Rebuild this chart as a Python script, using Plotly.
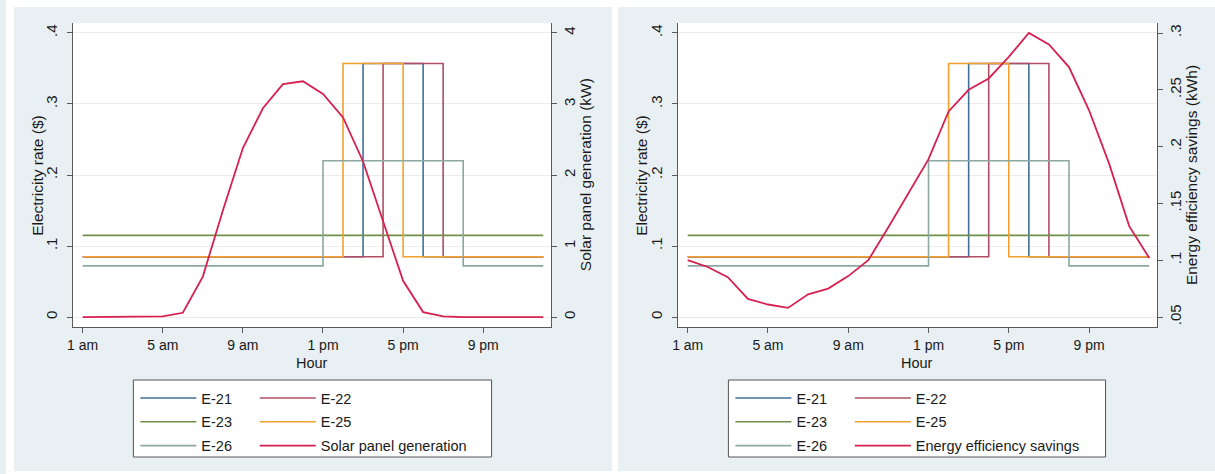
import plotly.graph_objects as go

W, H = 1215, 474

# ---- data -------------------------------------------------------------
hours = list(range(1, 25))
hour_tickvals = [1, 5, 9, 13, 17, 21]
hour_ticktext = ["1 am", "5 am", "9 am", "1 pm", "5 pm", "9 pm"]

# hourly electricity rates ($/kWh) for each tariff
e21 = [0.085, 0.085, 0.085, 0.085, 0.085, 0.085, 0.085, 0.085, 0.085, 0.085, 0.085, 0.085,
       0.085, 0.085, 0.357, 0.357, 0.357, 0.085, 0.085, 0.085, 0.085, 0.085, 0.085, 0.085]
e22 = [0.085, 0.085, 0.085, 0.085, 0.085, 0.085, 0.085, 0.085, 0.085, 0.085, 0.085, 0.085,
       0.085, 0.085, 0.085, 0.357, 0.357, 0.357, 0.085, 0.085, 0.085, 0.085, 0.085, 0.085]
e23 = [0.115, 0.115, 0.115, 0.115, 0.115, 0.115, 0.115, 0.115, 0.115, 0.115, 0.115, 0.115,
       0.115, 0.115, 0.115, 0.115, 0.115, 0.115, 0.115, 0.115, 0.115, 0.115, 0.115, 0.115]
e25 = [0.085, 0.085, 0.085, 0.085, 0.085, 0.085, 0.085, 0.085, 0.085, 0.085, 0.085, 0.085,
       0.085, 0.357, 0.357, 0.357, 0.085, 0.085, 0.085, 0.085, 0.085, 0.085, 0.085, 0.085]
e26 = [0.072, 0.072, 0.072, 0.072, 0.072, 0.072, 0.072, 0.072, 0.072, 0.072, 0.072, 0.072,
       0.220, 0.220, 0.220, 0.220, 0.220, 0.220, 0.220, 0.072, 0.072, 0.072, 0.072, 0.072]

# hourly solar panel output (kW)
solar_kw = [0, 0, 0, 0, 0.01, 0.06, 0.57, 1.50, 2.38, 2.94, 3.28, 3.32,
            3.14, 2.81, 2.19, 1.35, 0.51, 0.07, 0.01, 0, 0, 0, 0, 0]

# hourly energy efficiency savings (kWh)
savings_kwh = [0.100, 0.094, 0.085, 0.066, 0.061, 0.058, 0.070, 0.075, 0.086, 0.100, 0.129, 0.159,
               0.189, 0.231, 0.250, 0.260, 0.279, 0.300, 0.290, 0.270, 0.232, 0.185, 0.130, 0.102]

rate_ticks = [0, 0.1, 0.2, 0.3, 0.4]
rate_ticktext = ["0", ".1", ".2", ".3", ".4"]
solar_ticks = [0, 1, 2, 3, 4]
solar_ticktext = ["0", "1", "2", "3", "4"]
savings_ticks = [0.05, 0.10, 0.15, 0.20, 0.25, 0.30]
savings_ticktext = [".05", ".1", ".15", ".2", ".25", ".3"]

tariffs = [("E-21", e21), ("E-22", e22), ("E-23", e23), ("E-25", e25), ("E-26", e26)]
colors = {"E-21": "#40709a", "E-22": "#b24d63", "E-23": "#6f9048",
          "E-25": "#f2a12c", "E-26": "#8ca8a2"}
curve_color = "#d7204f"

FONT = "Liberation Sans, Arial, Helvetica, sans-serif"
TXT = "#1a1a1a"
AX = "#5a5a5a"
PANEL = "#e8f0f3"


def px_x(p):
    return p / W


def px_y(p):
    return 1 - p / H


fig = go.Figure()

# which legend column each series sits in
left_col = {"E-21": 1, "E-23": 1, "E-26": 1, "E-22": 2, "E-25": 2}

panels = [
    dict(xa="x", ya="y", ya2="y2", curve=solar_kw, curve_name="Solar panel generation",
         legs=("legend", "legend2")),
    dict(xa="x2", ya="y3", ya2="y4", curve=savings_kwh, curve_name="Energy efficiency savings",
         legs=("legend3", "legend4")),
]

for p in panels:
    for name, vals in tariffs:
        leg = p["legs"][0] if left_col[name] == 1 else p["legs"][1]
        fig.add_trace(go.Scatter(
            x=hours, y=vals, mode="lines", name=name,
            line=dict(color=colors[name], width=1.6, shape="hv"),
            xaxis=p["xa"], yaxis=p["ya"], legend=leg, legendgroup=p["xa"] + name,
            hoverinfo="skip"))
    fig.add_trace(go.Scatter(
        x=hours, y=p["curve"], mode="lines", name=p["curve_name"],
        line=dict(color=curve_color, width=1.8),
        xaxis=p["xa"], yaxis=p["ya2"], legend=p["legs"][1],
        legendgroup=p["xa"] + "curve", hoverinfo="skip"))

# ---- axes -------------------------------------------------------------
ydom = [px_y(327), px_y(23)]
xdom_l = [px_x(67), px_x(548)]
xdom_r = [px_x(675), px_x(1157)]

xtickfont = dict(family=FONT, size=14, color=TXT)
ytickfont = dict(family=FONT, size=15, color=TXT)

xcommon = dict(range=[0.5, 24.4], tickvals=hour_tickvals, ticktext=hour_ticktext,
               showgrid=False, zeroline=False, showline=True, linecolor=AX, linewidth=1,
               ticks="outside", ticklen=5, tickcolor=AX, tickfont=xtickfont)
ycommon = dict(showline=True, linecolor=AX, linewidth=1, zeroline=False,
               ticks="outside", ticklen=5, tickcolor=AX, tickfont=ytickfont, tickangle=-90)

fig.update_layout(
    xaxis=dict(domain=xdom_l, anchor="y", **xcommon),
    xaxis2=dict(domain=xdom_r, anchor="y3", **xcommon),
    yaxis=dict(domain=ydom, anchor="x", range=[-0.014, 0.414], tickvals=rate_ticks,
               ticktext=rate_ticktext, showgrid=True, gridcolor="#ececec", gridwidth=1,
               ticklabelstandoff=4, **ycommon),
    yaxis2=dict(domain=ydom, anchor="x", overlaying="y", side="right", range=[-0.14, 4.14],
                tickvals=solar_ticks, ticktext=solar_ticktext, showgrid=False, **ycommon),
    yaxis3=dict(domain=ydom, anchor="x2", range=[-0.014, 0.414], tickvals=rate_ticks,
                ticktext=rate_ticktext, showgrid=True, gridcolor="#ececec", gridwidth=1,
                ticklabelstandoff=4, **ycommon),
    yaxis4=dict(domain=ydom, anchor="x2", overlaying="y3", side="right",
                range=[0.0412, 0.3088], tickvals=savings_ticks, ticktext=savings_ticktext,
                showgrid=False, **ycommon),
)

# ---- panel backgrounds / legend frames ---------------------------------
shapes = []
for x0, y0, x1, y1 in [(0, 0, W, 7), (0, 0, 8, H), (609, 0, 615, H), (0, 471, W, H)]:
    shapes.append(dict(type="rect", xref="paper", yref="paper",
                       x0=px_x(x0), x1=px_x(x1), y0=px_y(y1), y1=px_y(y0),
                       fillcolor="white", line=dict(width=0), layer="below"))
for x0, x1 in [(128, 488), (726, 1105)]:
    shapes.append(dict(type="rect", xref="paper", yref="paper",
                       x0=px_x(x0), x1=px_x(x1), y0=px_y(457), y1=px_y(380),
                       fillcolor="white", line=dict(color="#555555", width=1), layer="below"))

# ---- axis titles -------------------------------------------------------
ann = []
titlefont = dict(family=FONT, size=15.5, color=TXT)
for cx, text in [(31, "Electricity rate ($)"), (582, "Solar panel generation (kW)"),
                 (638, "Electricity rate ($)"), (1191, "Energy efficiency savings (kWh)")]:
    ann.append(dict(x=px_x(cx), y=(ydom[0] + ydom[1]) / 2, xref="paper", yref="paper",
                    text=text, textangle=-90, showarrow=False, font=titlefont,
                    xanchor="center", yanchor="middle"))
for cx in [308, 916]:
    ann.append(dict(x=px_x(cx), y=px_y(363), xref="paper", yref="paper", text="Hour",
                    showarrow=False, font=dict(family=FONT, size=14.5, color=TXT),
                    xanchor="center", yanchor="middle"))

legfont = dict(family=FONT, size=14.5, color=TXT)
legcommon = dict(orientation="v", bgcolor="rgba(0,0,0,0)", borderwidth=0, font=legfont,
                 itemwidth=56, tracegroupgap=2, traceorder="grouped",
                 xanchor="left", yanchor="top", y=px_y(382))

fig.update_layout(
    width=W, height=H, margin=dict(l=0, r=0, t=0, b=0),
    paper_bgcolor=PANEL, plot_bgcolor="white",
    showlegend=True,
    legend=dict(x=px_x(130), **legcommon),
    legend2=dict(x=px_x(250), **legcommon),
    legend3=dict(x=px_x(728), **legcommon),
    legend4=dict(x=px_x(848), **legcommon),
    shapes=shapes, annotations=ann,
)

fig.write_html("out.html")
